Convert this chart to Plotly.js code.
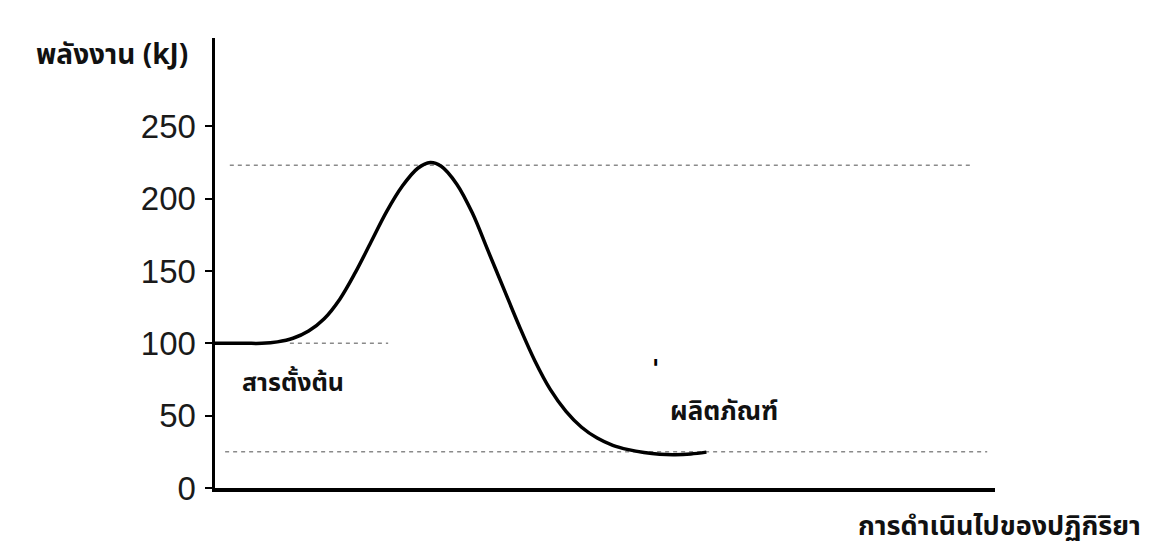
<!DOCTYPE html>
<html>
<head>
<meta charset="utf-8">
<script src="https://cdn.plot.ly/plotly-3.0.1.min.js"></script>
<style>
html,body{margin:0;padding:0;background:#fff;}
#chart{width:1151px;height:549px;}
</style>
</head>
<body>
<div id="chart"></div>
<script>
// Reaction progress (arbitrary units) and energy (kJ)
const progress = [0, 2, 4, 6, 8, 10, 12, 14, 16, 18, 20, 22, 24, 26, 27.6, 29, 31, 33, 35, 37, 39, 41, 43, 45, 47, 49, 51, 53, 55, 57, 59, 61, 63];
const energy   = [100, 100, 100, 100, 101, 103.5, 108.5, 117, 130.5, 149, 170, 191, 208.5, 221, 225, 222.4, 210, 190, 164, 138, 112, 88, 68, 53, 42, 34.5, 29.5, 26.5, 24.5, 23.3, 23, 23.5, 24.8];

// Dashed reference levels
const refLevels = [223, 100, 25];
const refStart  = [1.9, 9.6, 1.3];
const refEnd    = [96.8, 22.2, 99.0];

const yTicks = [0, 50, 100, 150, 200, 250];
const yTickLabels = ['0', '50', '100', '150', '200', '250'];

const yTitle = 'พลังงาน (kJ)';
const xTitle = 'การดำเนินไปของปฏิกิริยา';
const reactantLabel = 'สารตั้งต้น';
const productLabel = 'ผลิตภัณฑ์';

const thaiFont = '"Noto Sans Thai", "Noto Sans Thai UI", Loma, Garuda, Norasi, Waree, "Noto Sans", sans-serif';

const traces = [];
for (let i = 0; i < refLevels.length; i++) {
  traces.push({
    x: [refStart[i], refEnd[i]],
    y: [refLevels[i], refLevels[i]],
    mode: 'lines',
    line: {color: '#8a8a8a', width: 1.5, dash: '4px,4px'},
    hoverinfo: 'skip',
    showlegend: false
  });
}
traces.push({
  x: progress,
  y: energy,
  mode: 'lines',
  line: {color: '#000', width: 3.5, shape: 'spline', smoothing: 1},
  showlegend: false
});

const layout = {
  width: 1151,
  height: 549,
  margin: {l: 215, r: 156, t: 38, b: 61},
  paper_bgcolor: '#fff',
  plot_bgcolor: '#fff',
  showlegend: false,
  xaxis: {
    range: [0, 100],
    showgrid: false,
    zeroline: false,
    showline: true,
    linecolor: '#000',
    linewidth: 3.5,
    showticklabels: false,
    ticks: '',
    fixedrange: true
  },
  yaxis: {
    range: [0, 311],
    showgrid: false,
    zeroline: false,
    showline: true,
    linecolor: '#000',
    linewidth: 3.5,
    tickmode: 'array',
    tickvals: yTicks,
    ticktext: yTickLabels,
    ticks: 'outside',
    ticklen: 7,
    tickwidth: 2,
    tickcolor: '#000',
    ticklabelstandoff: 2,
    tickfont: {family: 'Liberation Sans, Arial, sans-serif', size: 33, color: '#1a1a1a'},
    fixedrange: true
  },
  annotations: [
    {xref: 'paper', yref: 'paper', x: -0.232, y: 0.962, xanchor: 'left', yanchor: 'middle',
     text: '<b>' + yTitle + '</b>', showarrow: false,
     font: {family: thaiFont, size: 28, color: '#111'}},
    {xref: 'paper', yref: 'paper', x: 1.19, y: -0.085, xanchor: 'right', yanchor: 'middle',
     text: '<b>' + xTitle + '</b>', showarrow: false,
     font: {family: thaiFont, size: 27, color: '#111'}},
    {xref: 'x', yref: 'y', x: 3.2, y: 72.4, xanchor: 'left', yanchor: 'middle',
     text: '<b>' + reactantLabel + '</b>', showarrow: false,
     font: {family: thaiFont, size: 25, color: '#111'}},
    {xref: 'x', yref: 'y', x: 58.1, y: 52.5, xanchor: 'left', yanchor: 'middle',
     text: '<b>' + productLabel + '</b>', showarrow: false,
     font: {family: thaiFont, size: 26, color: '#111'}},
    {xref: 'x', yref: 'y', x: 56.5, y: 82, xanchor: 'center', yanchor: 'middle',
     text: '<b>\'</b>', showarrow: false,
     font: {family: 'DejaVu Sans, sans-serif', size: 24, color: '#000'}}
  ]
};

Plotly.newPlot('chart', traces, layout, {displayModeBar: false, staticPlot: true});
</script>
</body>
</html>
